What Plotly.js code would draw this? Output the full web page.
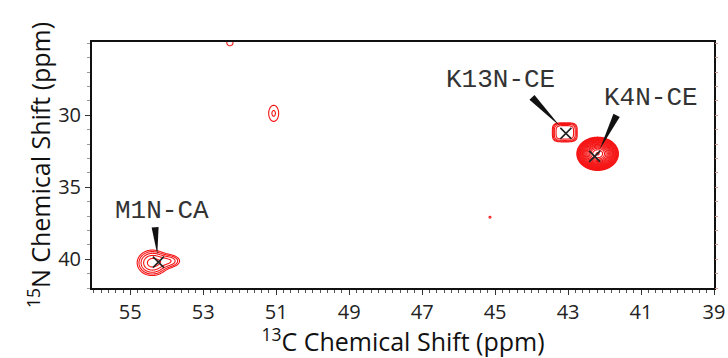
<!DOCTYPE html>
<html>
<head>
<meta charset="utf-8">
<script src="https://cdn.plot.ly/plotly-3.0.1.min.js"></script>
<style>html,body{margin:0;padding:0;background:#fff;}#chart{width:728px;height:358px;}</style>
</head>
<body>
<div id="chart"></div>
<script>
// ---- Data ----
// peak components (13C ppm, 15N ppm, relative height, widths, shape exponent)
var peakC   = [54.40, 53.88, 43.09, 42.19, 51.07, 52.27, 45.14];
var peakN   = [40.25, 40.12, 31.18, 32.67, 29.86, 24.95, 37.08];
var peakAmp = [3.2,   1.7,   2.85,  150,   1.35,  1.2,   1.05];
var peakWC  = [0.27,  0.21,  0.283, 0.18,  0.177, 0.14,  0.09];
var peakWN  = [0.58,  0.32,  0.55,  0.365, 0.72,  0.35,  0.22];
var peakQ   = [2,     2,     4,     2,     2,     2,     2];

// assigned cross peaks (x markers)
var assignNames = ["M1N-CA", "K13N-CE", "K4N-CE"];
var assignC = [54.23, 43.06, 42.27];
var assignN = [40.20, 31.25, 32.85];
// label text positions
var labelC = [54.13, 44.85, 40.72];
var labelN = [36.67, 27.57, 28.82];
// arrow wedge: base (near label) and tip (near peak)
var arrowFromC = [54.32, 43.99, 41.67];
var arrowFromN = [37.78, 28.75, 30.00];
var arrowToC   = [54.26, 43.22, 42.13];
var arrowToN   = [39.65, 30.76, 32.36];

var xTickVals = [55, 53, 51, 49, 47, 45, 43, 41, 39];
var yTickVals = [30, 35, 40];

// ---- Build spectrum grid ----
var xRange = [56.05, 39];
var yRange = [42, 24.9];
var gx = [], gy = [];
for (var i = 0; i <= 853; i++) gx.push(39 + i * 0.02);
for (var j = 0; j <= 450; j++) gy.push(24.4 + j * 0.04);
var lnf = Math.log(1.3);
var z = [];
for (var j = 0; j < gy.length; j++) {
  var row = [];
  for (var i = 0; i < gx.length; i++) {
    var s = 0;
    for (var p = 0; p < peakC.length; p++) {
      var dx = Math.abs((gx[i] - peakC[p]) / peakWC[p]);
      var dy = Math.abs((gy[j] - peakN[p]) / peakWN[p]);
      if (dx > 6 || dy > 6) continue;
      var u = Math.pow(dx, peakQ[p]) + Math.pow(dy, peakQ[p]);
      s += peakAmp[p] * Math.exp(-0.5 * u);
    }
    var v = Math.log(Math.max(s, 1e-4)) / lnf;
    row.push(Math.max(v, -5));
  }
  z.push(row);
}

var margin = {l: 92, r: 14, t: 42, b: 70};
var plotW = 728 - margin.l - margin.r;
var plotH = 358 - margin.t - margin.b;
var kx = plotW / Math.abs(xRange[0] - xRange[1]);
var ky = plotH / Math.abs(yRange[0] - yRange[1]);

// wedge shapes
var shapes = [];
var baseW = 7;
for (var a = 0; a < arrowFromC.length; a++) {
  var dxp = -(arrowToC[a] - arrowFromC[a]) * kx;
  var dyp = (arrowToN[a] - arrowFromN[a]) * ky;
  var len = Math.sqrt(dxp * dxp + dyp * dyp);
  var px = -dyp / len * baseW / 2, py = dxp / len * baseW / 2;
  var b1c = arrowFromC[a] - px / kx, b1n = arrowFromN[a] + py / ky;
  var b2c = arrowFromC[a] + px / kx, b2n = arrowFromN[a] - py / ky;
  shapes.push({
    type: 'path', xref: 'x', yref: 'y',
    path: 'M ' + b1c + ' ' + b1n + ' L ' + b2c + ' ' + b2n + ' L ' + arrowToC[a] + ' ' + arrowToN[a] + ' Z',
    fillcolor: '#111', line: {width: 0}
  });
}

var annotations = [];
for (var a = 0; a < assignNames.length; a++) {
  annotations.push({
    x: labelC[a], y: labelN[a], xref: 'x', yref: 'y', text: assignNames[a],
    showarrow: false, xanchor: 'center', yanchor: 'middle',
    font: {family: 'Liberation Mono, Courier New, monospace', size: 26, color: '#333'}
  });
}

var traces = [
  {
    type: 'contour', x: gx, y: gy, z: z,
    autocontour: false,
    contours: {start: 0, end: 40, size: 1, coloring: 'lines', showlabels: false},
    colorscale: [[0, 'rgb(245,20,20)'], [1, 'rgb(245,20,20)']],
    line: {width: 1.1, color: 'rgb(245,20,20)'},
    showscale: false, hoverinfo: 'skip'
  },
  {
    type: 'scatter', mode: 'markers', x: assignC, y: assignN,
    marker: {symbol: 'x-thin-open', size: 11, color: '#222', line: {width: 1.6, color: '#222'}},
    hoverinfo: 'skip'
  },
  {
    type: 'scatter', mode: 'markers', x: [assignC[0]], y: [assignN[0]], yaxis: 'y2',
    marker: {opacity: 0}, hoverinfo: 'skip'
  }
];

var tickFont = {family: 'Open Sans, sans-serif', size: 20, color: '#222'};
var layout = {
  width: 728, height: 358,
  margin: margin,
  paper_bgcolor: '#fff', plot_bgcolor: '#fff',
  showlegend: false,
  xaxis: {
    range: xRange, tickvals: xTickVals, ticktext: xTickVals.map(String),
    ticks: 'outside', ticklen: 5, tickwidth: 1, tickcolor: '#333',
    minor: {dtick: 0.2, tick0: 39, ticks: 'outside', ticklen: 3, tickcolor: '#555', tickwidth: 1},
    showline: true, linecolor: '#111', linewidth: 2, mirror: true,
    showgrid: false, zeroline: false, tickfont: tickFont,
    title: {text: '<sup>13</sup>C Chemical Shift (ppm)', font: {family: 'Open Sans, sans-serif', size: 25, color: '#111'}, standoff: 7}
  },
  yaxis: {
    range: yRange, tickvals: yTickVals, ticktext: yTickVals.map(String),
    ticks: 'outside', ticklen: 5, tickwidth: 1, tickcolor: '#333',
    minor: {dtick: 1, tick0: 0, ticks: 'outside', ticklen: 3, tickcolor: '#999', tickwidth: 1},
    showline: true, linecolor: '#111', linewidth: 2, mirror: true,
    showgrid: false, zeroline: false, tickfont: tickFont,
    title: {text: '<sup>15</sup>N Chemical Shift (ppm)', font: {family: 'Open Sans, sans-serif', size: 25, color: '#111'}, standoff: 0}
  },
  yaxis2: {
    overlaying: 'y', side: 'right', range: yRange, dtick: 1, tick0: 0,
    ticks: 'outside', ticklen: 3, tickcolor: '#c99', showticklabels: false,
    showgrid: false, zeroline: false, showline: false
  },
  shapes: shapes,
  annotations: annotations
};

Plotly.newPlot('chart', traces, layout, {displayModeBar: false, staticPlot: true});
</script>
</body>
</html>
